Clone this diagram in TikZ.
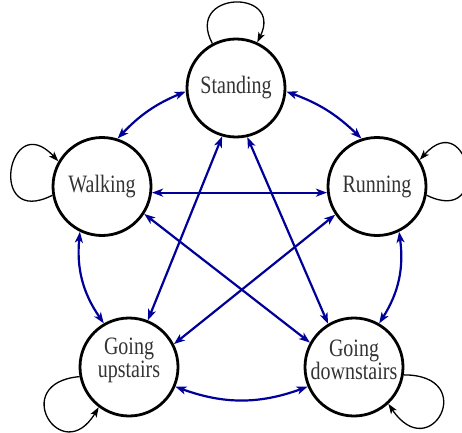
\documentclass[tikz,border=0pt]{standalone}
\usepackage{fontspec}
\setmainfont{Liberation Serif}
\usetikzlibrary{arrows.meta}
\definecolor{edgeblue}{RGB}{0,0,153}
\definecolor{textgrey}{RGB}{51,51,51}
\begin{document}
\begin{tikzpicture}[x=1pt,y=1pt,
  state/.style={circle,draw=black,line width=2.8pt,minimum size=98pt,inner sep=0pt},
  stext/.style={align=center,text=textgrey,inner sep=0pt,yscale=1.25,font=\fontsize{20}{18.4}\selectfont},
  link/.style={draw=edgeblue,line width=2.2pt,{Stealth[length=11pt,width=8pt,inset=3pt]}-{Stealth[length=11pt,width=8pt,inset=3pt]}},
  selfloop/.style={draw=black,line width=1.3pt,-{Stealth[length=10pt,width=7pt,inset=2.5pt]}}]
\useasboundingbox (0,0) rectangle (462,432);
\node[state] (std) at (236,344) {};
\node[state] (walk) at (102,245.5) {};
\node[state] (run) at (377,245.5) {};
\node[state] (up) at (129,65) {};
\node[state] (down) at (354,65) {};
\node[stext] (stdt) at (std.center) {Standing};
\node[stext] (walkt) at (walk.center) {Walking};
\node[stext] (runt) at (run.center) {Running};
\node[stext] (upt) at ([yshift=7pt]up.center) {Going\\upstairs};
\node[stext] (downt) at ([yshift=7pt]down.center) {Going\\downstairs};
% self loops
\draw[selfloop] (std.118) .. controls +(118:60) and +(64:60) .. (std.65);
\draw[selfloop] (walk.190) .. controls +(207:74) and +(133:74) .. (walk.150);
\draw[selfloop] (run.-10) .. controls +(-26:74) and +(48:74) .. (run.32);
\draw[selfloop] (up.191) .. controls +(185:72) and +(239:72) .. (up.233);
\draw[selfloop] (down.-9.5) .. controls +(0:76) and +(-56:76) .. (down.313);
% links
\draw[link] (std.184) to[bend right=12] (walk.72);
\draw[link] (std.356) to[bend left=12] (run.108);
\draw[link] (walk.244) to[bend right=20] (up.120);
\draw[link] (run.296) to[bend left=20] (down.60);
\draw[link] (up.-23) to[bend right=20] (down.203);
\draw[link] (walk.-7.5) -- (run.187.5);
\draw[link] (std.254) -- (up.68);
\draw[link] (std.283) -- (down.121.5);
\draw[link] (walk.-33.5) -- (down.151);
\draw[link] (run.214) -- (up.27.5);
\end{tikzpicture}
\end{document}
